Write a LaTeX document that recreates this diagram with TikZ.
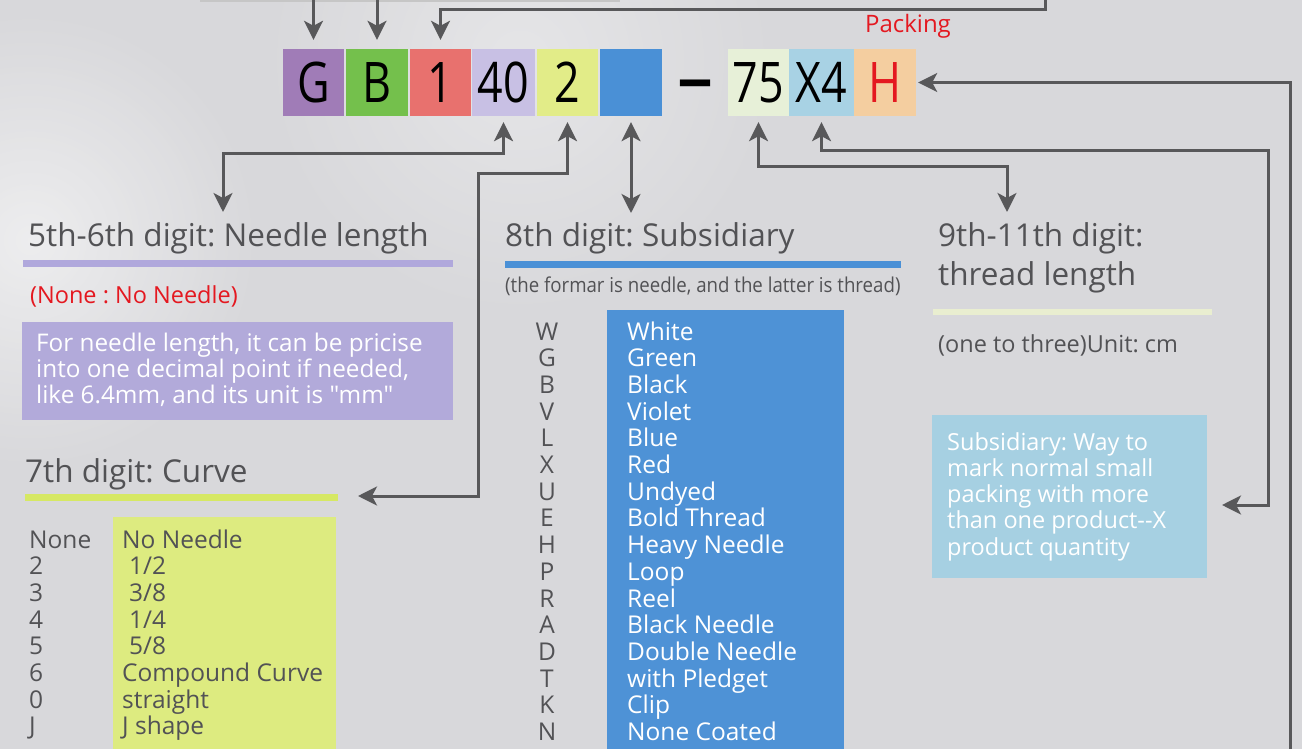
\documentclass[tikz,border=0pt]{standalone}
\usepackage{fontspec}
\setmainfont{Open Sans}[Ligatures=TeXOff]
\newfontfamily\condfont{Open Sans}[FakeStretch=0.91,Ligatures=TeXOff]
\usetikzlibrary{arrows.meta}

\definecolor{bg}{RGB}{216,216,219}
\definecolor{ln}{RGB}{88,88,90}
\definecolor{hd}{RGB}{82,82,85}
\definecolor{cG}{RGB}{160,124,183}
\definecolor{cB}{RGB}{116,192,76}
\definecolor{cOne}{RGB}{232,113,110}
\definecolor{cFourty}{RGB}{200,192,228}
\definecolor{cTwo}{RGB}{226,236,136}
\definecolor{cBlue}{RGB}{74,144,214}
\definecolor{cSeventy}{RGB}{231,240,216}
\definecolor{cXfour}{RGB}{168,210,228}
\definecolor{cH}{RGB}{244,206,160}
\definecolor{pkred}{RGB}{228,24,32}
\definecolor{lav}{RGB}{178,170,218}
\definecolor{lavline}{RGB}{176,168,220}
\definecolor{ylw}{RGB}{221,235,128}
\definecolor{ylwline}{RGB}{214,232,100}
\definecolor{thr}{RGB}{233,238,208}
\definecolor{subbox}{RGB}{166,208,226}
\definecolor{bluebox}{RGB}{78,146,214}

\newcommand{\digtxt}[1]{\scalebox{0.8}[1]{#1}}

\tikzset{
  myTip/.tip={Stealth[length=19pt,width=19pt,inset=5pt]},
  conn/.style={draw=ln, line width=3pt, -myTip},
  dconn/.style={draw=ln, line width=3pt, myTip-myTip},
  digit/.style={minimum height=67pt, inner sep=0pt, text=black,
    font=\fontsize{56}{56}\selectfont},
  head/.style={anchor=base west, inner sep=0pt, text=hd,
    font=\fontsize{31.5}{36}\selectfont},
  body/.style={anchor=base west, inner sep=0pt,
    font=\fontsize{23.5}{26.7}\selectfont},
  listtxt/.style={body, font=\fontsize{24.5}{26.7}\selectfont}
}

\begin{document}
\frenchspacing
\begin{tikzpicture}[x=1pt,y=-1pt]
\useasboundingbox (0,0) rectangle (1302,749);
\fill[bg] (0,0) rectangle (1302,749);
\shade[inner color=white, outer color=bg, opacity=0.55] (30,240) circle (230);
\shade[inner color=white, outer color=bg, opacity=0.35] (520,60) circle (260);
\draw[gray!45, line width=1.5pt] (200,1) -- (620,1);

% top code boxes
\node[digit, fill=cG, minimum width=61pt] (bG) at (313.5,82.5) {\digtxt{G}};
\node[digit, fill=cB, minimum width=62pt] (bB) at (377,82.5) {\digtxt{B}};
\node[digit, fill=cOne, minimum width=61pt] (bOne) at (440.5,82.5) {\digtxt{1}};
\node[digit, fill=cFourty, minimum width=63pt] (bFourty) at (503.5,82.5) {\digtxt{40}};
\node[digit, fill=cTwo, minimum width=61pt] (bTwo) at (567.5,82.5) {\digtxt{2}};
\node[digit, fill=cBlue, minimum width=62pt] (bBlue) at (631,82.5) {};
\node[anchor=base, inner sep=0pt, text=black, font=\fontsize{60}{60}\bfseries\selectfont] (dash) at (695,100) {\scalebox{1.2}[1]{–}};
\node[digit, fill=cSeventy, minimum width=61pt] (bSeventy) at (758.5,82.5) {\digtxt{75}};
\node[digit, fill=cXfour, minimum width=65pt] (bXfour) at (821.5,82.5) {\digtxt{X4}};
\node[digit, fill=cH, minimum width=62pt, text=pkred] (bH) at (885,82.5) {\digtxt{H}};
\node[anchor=base, inner sep=0pt, text=pkred, font=\fontsize{24}{28}\selectfont] (pack) at (908,33) {Packing};

% coordinates for connectors
\coordinate (gTop) at (313.5,0);
\coordinate (bTop) at (377,0);
\coordinate (oneTop) at (1045,0);
\coordinate (oneTurn) at (1045,10);
\coordinate (hBot) at (1290,749);
\coordinate (xTurn) at (1268,151);
\coordinate (xDown) at (1268,505);
\coordinate (xEnd) at (1222,505);
\coordinate (sTurn) at (1007,167);
\coordinate (sEnd) at (1007,212);
\coordinate (blEnd) at (631,213);
\coordinate (tTurn) at (478,174);
\coordinate (tDown) at (478,496);
\coordinate (tEnd) at (358,496);
\coordinate (fTurn) at (223,154);
\coordinate (fEnd) at (223,212);

\draw[conn, shorten >=9pt] (gTop) -- (bG.north);
\draw[conn, shorten >=9pt] (bTop) -- (bB.north);
\draw[conn, shorten >=9pt] (oneTop) -- (oneTurn) -| (bOne.north);
\draw[conn, shorten >=2pt] (hBot) |- (bH.east);
\draw[dconn, shorten <=6pt] (bXfour.south) |- (xTurn) -- (xDown) -- (xEnd);
\draw[dconn, shorten <=6pt] (bSeventy.south) |- (sTurn) -- (sEnd);
\draw[dconn, shorten <=6pt] (bBlue.south) -- (blEnd);
\draw[dconn, shorten <=6pt] (bTwo.south) |- (tTurn) -- (tDown) -- (tEnd);
\draw[dconn, shorten <=6pt] (bFourty.south) |- (fTurn) -- (fEnd);

% left: needle length
\node[head] (hNeedle) at (28,247) {5th-6th digit: Needle length};
\fill[lavline] (23,260) rectangle (453,267);
\node[body, text=pkred] (noneNote) at (30,303) {(None : No Needle)};
\fill[lav] (22,322) rectangle (453,420);
\node[body, text=white, font=\fontsize{24.3}{26.7}\selectfont] (nl1) at (36,351) {For needle length, it can be pricise};
\node[body, text=white, font=\fontsize{24.3}{26.7}\selectfont] (nl2) at (36,377) {into one decimal point if needed,};
\node[body, text=white, font=\fontsize{24.3}{26.7}\selectfont] (nl3) at (36,403) {like 6.4mm, and its unit is "mm"};

% left: curve
\node[head] (hCurve) at (25,482) {7th digit: Curve};
\fill[ylwline] (25,494) rectangle (338,501);
\fill[ylw] (113,517) rectangle (336,760);
\foreach \t [count=\i] in {None,2,3,4,5,6,0,J}
  \node[listtxt, text=hd] (ck\i) at (29,{521.3+26.7*\i}) {\t};
\foreach \t [count=\i] in {No Needle,\hspace{7pt}1/2,\hspace{7pt}3/8,\hspace{7pt}1/4,\hspace{7pt}5/8,Compound Curve,straight,J shape}
  \node[listtxt, text=hd] (cv\i) at (122,{521.3+26.7*\i}) {\t};

% middle: subsidiary
\node[head] (hSub) at (505,247) {8th digit: Subsidiary};
\fill[cBlue] (505,261) rectangle (901,268);
\node[anchor=base west, inner sep=0pt, text=hd, font=\condfont\fontsize{20.5}{22}\selectfont] (subNote) at (505,292) {(the formar is needle, and the latter is thread)};
\fill[bluebox] (607,310) rectangle (844,760);
\foreach \t [count=\i] in {W,G,B,V,L,X,U,E,H,P,R,A,D,T,K,N}
  \node[listtxt, anchor=base, text=hd] (sk\i) at (547,{313.3+26.7*\i}) {\t};
\foreach \t [count=\i] in {White,Green,Black,Violet,Blue,Red,Undyed,Bold Thread,Heavy Needle,Loop,Reel,Black Needle,Double Needle,with Pledget,Clip,None Coated}
  \node[listtxt, text=white] (sv\i) at (627,{313.3+26.7*\i}) {\t};

% right: thread length
\node[head] (hThreadA) at (938,247) {9th-11th digit:};
\node[head] (hThreadB) at (938,285) {thread length};
\fill[thr] (933,309) rectangle (1212,315);
\node[body, text=hd] (unit) at (938,352) {(one to three)Unit: cm};
\fill[subbox] (932,415) rectangle (1207,578);
\node[body, text=white] (sb1) at (947,450) {Subsidiary: Way to};
\node[body, text=white] (sb2) at (947,476) {mark normal small};
\node[body, text=white] (sb3) at (947,502) {packing with more};
\node[body, text=white] (sb4) at (947,528) {than one product--X};
\node[body, text=white] (sb5) at (947,555) {product quantity};
\end{tikzpicture}
\end{document}
